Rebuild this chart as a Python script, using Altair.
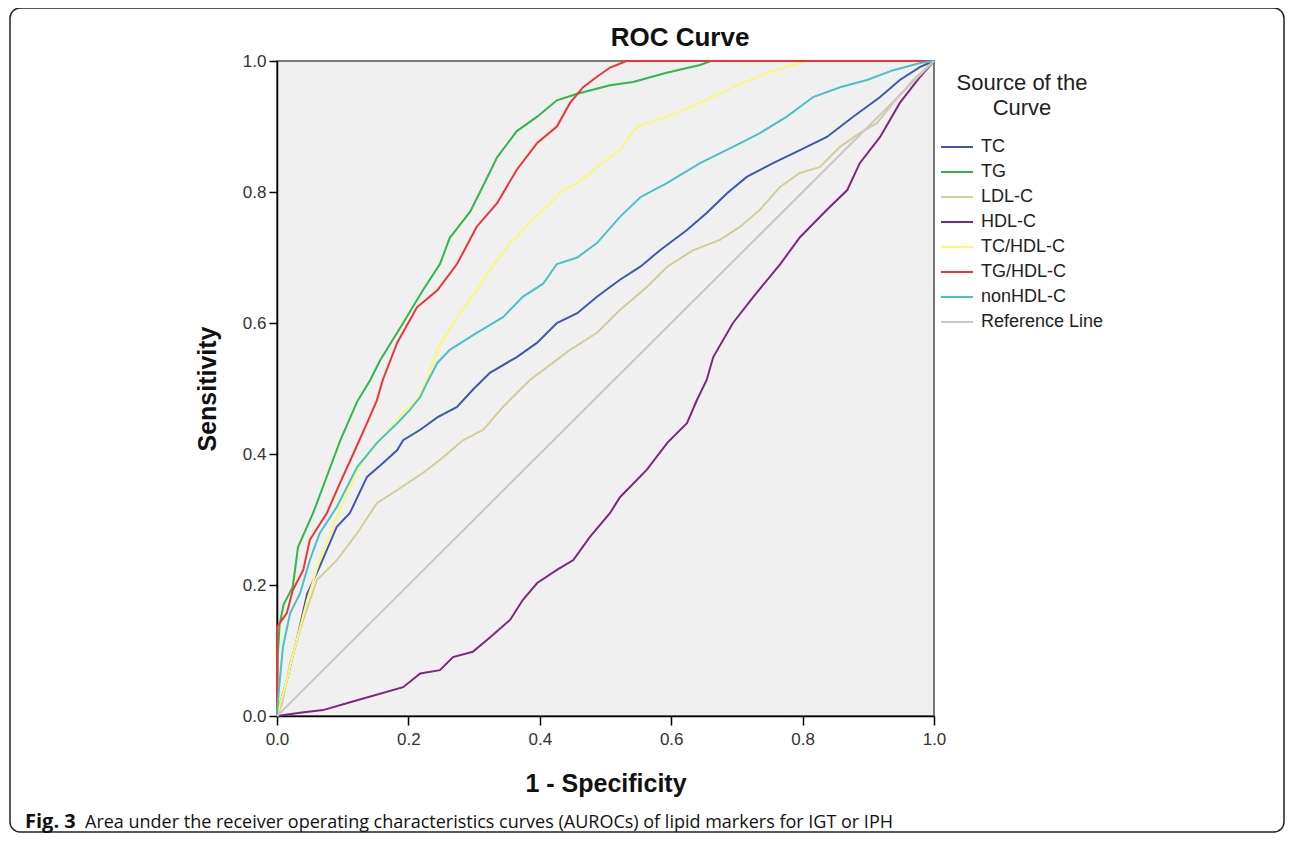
import altair as alt
import pandas as pd

# ---- data ----
series_names = ["TC", "TG", "LDL-C", "HDL-C", "TC/HDL-C", "TG/HDL-C", "nonHDL-C", "Reference Line"]
series_colors = ["#3E58AC", "#2EB848", "#D3CE97", "#7C287D", "#FBF873", "#EF3338", "#48C2C5", "#C8C8C8"]

tc_x = [0, 0.005, 0.015, 0.03, 0.046, 0.065, 0.091, 0.111, 0.137, 0.161, 0.183, 0.192, 0.218, 0.244, 0.274,
        0.298, 0.324, 0.365, 0.396, 0.426, 0.457, 0.487, 0.507, 0.522, 0.553, 0.583, 0.624, 0.654, 0.685,
        0.715, 0.755, 0.796, 0.837, 0.877, 0.918, 0.948, 0.979, 1.0]
tc_y = [0, 0.02, 0.055, 0.116, 0.187, 0.228, 0.289, 0.31, 0.365, 0.386, 0.406, 0.421, 0.437, 0.456, 0.472,
        0.498, 0.524, 0.548, 0.57, 0.60, 0.615, 0.64, 0.655, 0.666, 0.686, 0.711, 0.742, 0.768, 0.798,
        0.823, 0.844, 0.864, 0.884, 0.915, 0.945, 0.971, 0.991, 1.0]

tg_x = [0, 0.001, 0.004, 0.01, 0.024, 0.032, 0.055, 0.07, 0.096, 0.122, 0.142, 0.157, 0.192, 0.222, 0.248, 0.263,
        0.294, 0.314, 0.335, 0.365, 0.396, 0.426, 0.457, 0.476, 0.507, 0.542, 0.593, 0.644, 0.66, 1.0]
tg_y = [0, 0.09, 0.14, 0.17, 0.197, 0.258, 0.31, 0.35, 0.42, 0.48, 0.513, 0.543, 0.60, 0.65, 0.69, 0.73,
        0.77, 0.81, 0.853, 0.893, 0.915, 0.94, 0.95, 0.955, 0.963, 0.968, 0.982, 0.994, 1.0, 1.0]

ldl_x = [0, 0.008, 0.02, 0.04, 0.061, 0.091, 0.122, 0.152, 0.183, 0.222, 0.253, 0.283, 0.314, 0.344, 0.37,
         0.385, 0.405, 0.446, 0.487, 0.507, 0.522, 0.563, 0.594, 0.633, 0.674, 0.705, 0.735, 0.766, 0.796,
         0.826, 0.857, 0.887, 0.913, 0.938, 0.968, 1.0]
ldl_y = [0, 0.02, 0.081, 0.147, 0.208, 0.238, 0.279, 0.325, 0.345, 0.371, 0.395, 0.421, 0.437, 0.472, 0.498,
         0.513, 0.528, 0.559, 0.585, 0.605, 0.62, 0.655, 0.686, 0.711, 0.727, 0.747, 0.773, 0.808, 0.829,
         0.838, 0.869, 0.89, 0.905, 0.936, 0.971, 1.0]

hdl_x = [0, 0.035, 0.07, 0.122, 0.192, 0.218, 0.248, 0.268, 0.298, 0.324, 0.355, 0.374, 0.396, 0.426, 0.451,
         0.476, 0.507, 0.522, 0.563, 0.594, 0.624, 0.639, 0.654, 0.664, 0.694, 0.725, 0.766, 0.796, 0.837,
         0.868, 0.887, 0.918, 0.948, 0.979, 1.0]
hdl_y = [0, 0.005, 0.009, 0.024, 0.044, 0.065, 0.07, 0.09, 0.098, 0.12, 0.147, 0.177, 0.203, 0.223, 0.238,
         0.273, 0.31, 0.334, 0.376, 0.417, 0.447, 0.482, 0.513, 0.548, 0.60, 0.64, 0.69, 0.731, 0.773,
         0.803, 0.844, 0.884, 0.936, 0.976, 1.0]

tchdl_x = [0, 0.005, 0.015, 0.03, 0.046, 0.065, 0.085, 0.106, 0.131, 0.161, 0.192, 0.213, 0.228, 0.244, 0.274,
           0.304, 0.324, 0.355, 0.385, 0.416, 0.435, 0.457, 0.476, 0.507, 0.522, 0.548, 0.594, 0.644, 0.694,
           0.746, 0.785, 0.807, 1.0]
tchdl_y = [0, 0.02, 0.055, 0.116, 0.177, 0.238, 0.289, 0.34, 0.39, 0.426, 0.463, 0.482, 0.513, 0.559, 0.609,
           0.65, 0.681, 0.722, 0.753, 0.783, 0.803, 0.814, 0.829, 0.853, 0.864, 0.90, 0.915, 0.936, 0.96,
           0.982, 0.994, 1.0, 1.0]

tghdl_x = [0, 0, 0.015, 0.024, 0.04, 0.05, 0.076, 0.096, 0.116, 0.137, 0.152, 0.161, 0.183, 0.213, 0.244,
           0.274, 0.304, 0.335, 0.365, 0.396, 0.426, 0.446, 0.466, 0.487, 0.507, 0.532, 1.0]
tghdl_y = [0, 0.136, 0.157, 0.192, 0.223, 0.269, 0.31, 0.356, 0.40, 0.447, 0.482, 0.513, 0.57, 0.624, 0.65,
           0.69, 0.747, 0.783, 0.834, 0.875, 0.90, 0.936, 0.96, 0.976, 0.99, 1.0, 1.0]

nonhdl_x = [0, 0.002, 0.009, 0.02, 0.035, 0.05, 0.065, 0.091, 0.122, 0.152, 0.183, 0.202, 0.218, 0.228, 0.244,
            0.263, 0.304, 0.344, 0.374, 0.405, 0.426, 0.457, 0.487, 0.522, 0.553, 0.594, 0.644, 0.694, 0.735,
            0.776, 0.816, 0.857, 0.898, 0.938, 0.979, 1.0]
nonhdl_y = [0, 0.03, 0.105, 0.157, 0.187, 0.238, 0.279, 0.319, 0.38, 0.417, 0.447, 0.467, 0.487, 0.508, 0.539,
            0.559, 0.585, 0.609, 0.64, 0.66, 0.69, 0.70, 0.722, 0.762, 0.792, 0.814, 0.844, 0.869, 0.89,
            0.915, 0.945, 0.96, 0.971, 0.986, 0.997, 1.0]

ref_x = [0, 1.0]
ref_y = [0, 1.0]

x_ticks = [0.0, 0.2, 0.4, 0.6, 0.8, 1.0]
y_ticks = [0.0, 0.2, 0.4, 0.6, 0.8, 1.0]

chart_title = "ROC Curve"
caption_bold = "Fig. 3"
caption_rest = "Area under the receiver operating characteristics curves (AUROCs) of lipid markers for IGT or IPH"

# ---- build table ----
all_series = [tc_x, tg_x, ldl_x, hdl_x, tchdl_x, tghdl_x, nonhdl_x, ref_x]
all_y = [tc_y, tg_y, ldl_y, hdl_y, tchdl_y, tghdl_y, nonhdl_y, ref_y]
rows = []
for name, xs, ys in zip(series_names, all_series, all_y):
    for i, (a, b) in enumerate(zip(xs, ys)):
        rows.append({"series": name, "fpr": a, "tpr": b, "i": i})
df = pd.DataFrame(rows)

FONT = "Liberation Sans"

lines = alt.Chart(df).mark_line().encode(
    x=alt.X("fpr:Q",
            scale=alt.Scale(domain=[0, 1], nice=False, zero=False),
            axis=alt.Axis(values=x_ticks, format=".1f", title="1 - Specificity",
                          labelFont=FONT, labelFontSize=17, labelColor="#333",
                          tickSize=9, tickColor="#000", tickWidth=1.5,
                          domainColor="#000", domainWidth=1.5, labelPadding=6,
                          titleFont=FONT, titleFontSize=25, titleFontWeight="bold",
                          titleColor="#111", titlePadding=24, grid=False, labelFlush=False)),
    y=alt.Y("tpr:Q",
            scale=alt.Scale(domain=[0, 1], nice=False, zero=False),
            axis=alt.Axis(values=y_ticks, format=".1f", title="Sensitivity",
                          labelFont=FONT, labelFontSize=17, labelColor="#333",
                          tickSize=8, tickColor="#000", tickWidth=1.5,
                          domainColor="#000", domainWidth=1.5, labelPadding=3,
                          titleFont=FONT, titleFontSize=25, titleFontWeight="bold",
                          titleColor="#111", titlePadding=22, grid=False, labelFlush=False)),
    color=alt.Color("series:N",
                    scale=alt.Scale(domain=series_names, range=series_colors),
                    legend=alt.Legend(title=["Source of the", "Curve"], orient="none",
                                      legendX=663, legendY=12,
                                      symbolType="M-1,0L3,0", symbolSize=256, symbolStrokeWidth=2,
                                      labelFont=FONT, labelFontSize=18, labelColor="#222",
                                      labelOffset=23, labelLimit=300,
                                      titleFont=FONT, titleFontSize=22, titleFontWeight="normal",
                                      titleColor="#222", titleAlign="center", titleAnchor="middle",
                                      titleLineHeight=25, titlePadding=18, rowPadding=7, padding=0)),
    strokeWidth=alt.StrokeWidth("series:N",
                                scale=alt.Scale(domain=series_names, range=[2, 2, 2, 2, 2, 2, 2, 1.2]),
                                legend=None),
    order=alt.Order("i:Q"),
)

one = pd.DataFrame({"k": [0]})
frame = alt.Chart(one).mark_rect(filled=False, stroke="#222", strokeWidth=1.5,
                                 cornerRadius=10, clip=False).encode(
    x=alt.value(-267), x2=alt.value(1007), y=alt.value(-53), y2=alt.value(771))

title_text = alt.Chart(one).mark_text(align="center", baseline="alphabetic", font=FONT,
                                      fontSize=26, fontWeight="bold", color="#111").encode(
    x=alt.value(403), y=alt.value(-15), text=alt.value(chart_title))

cap1 = alt.Chart(one).mark_text(align="left", baseline="alphabetic", font="Open Sans",
                                fontSize=20, fontWeight="bold", color="#111").encode(
    x=alt.value(-252), y=alt.value(767), text=alt.value(caption_bold))
cap2 = alt.Chart(one).mark_text(align="left", baseline="alphabetic", font="Open Sans",
                                fontSize=18, color="#111").encode(
    x=alt.value(-192), y=alt.value(767), text=alt.value(caption_rest))

chart = alt.layer(frame, lines, title_text, cap1, cap2).properties(
    width=657, height=655,
    autosize="none",
    padding={"left": 269, "top": 53, "right": 351, "bottom": 117},
    background="white",
).configure_view(fill="#F0F0F0", stroke="#777", strokeWidth=2)

chart.save("out.html", embed_options={"renderer": "svg", "actions": False})
